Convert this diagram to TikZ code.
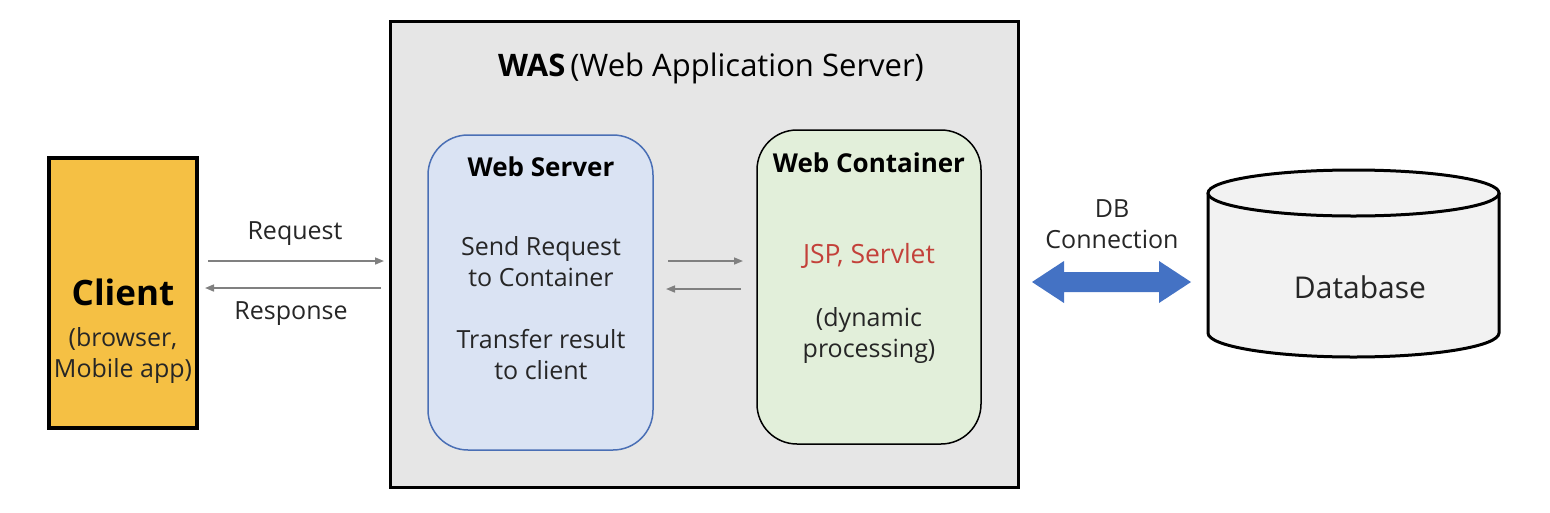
\documentclass[tikz,border=0pt]{standalone}
\usepackage{fontspec}
\setmainfont{Open Sans}
\usetikzlibrary{arrows.meta}
\definecolor{clientY}{HTML}{F5C044}
\definecolor{wasG}{HTML}{E6E6E6}
\definecolor{wsFill}{HTML}{DAE3F3}
\definecolor{wsLine}{HTML}{4A6FB5}
\definecolor{wcFill}{HTML}{E2EFDA}
\definecolor{dbFill}{HTML}{F2F2F2}
\definecolor{jspRed}{HTML}{C3413A}
\definecolor{arrGray}{HTML}{808080}
\definecolor{dbBlue}{HTML}{4472C4}
\tikzset{
  lbl/.style={font=\fontsize{25}{31}\selectfont, text=black!85, align=center, inner sep=0pt},
  grayarrow/.style={draw=arrGray, line width=1.6pt, -{Triangle[length=9pt,width=7pt]}},
}
\begin{document}
\begin{tikzpicture}[x=1pt,y=-1pt]
\useasboundingbox (0,0) rectangle (1550,512);
% WAS box
\draw[fill=wasG, line width=3pt] (390,21) rectangle (1018,487);
\node[inner sep=0pt, font=\fontsize{31}{36}\selectfont] (wastitle) at (711,68) {\textbf{WAS}\,(Web Application Server)};
% client
\draw[fill=clientY, line width=3.5pt] (49,158) rectangle (197,428);
\node[inner sep=0pt, font=\bfseries\fontsize{35}{40}\selectfont] (client) at (123,292) {Client};
\node[lbl] (clientsub) at (123,355) {(browser,\\Mobile app)};
\coordinate (cR1) at (208,261);
\coordinate (cR2) at (205,288);
\coordinate (wL1) at (384,261);
\coordinate (wL2) at (381,288);
\draw[grayarrow] (cR1) -- (wL1);
\draw[grayarrow] (wL2) -- (cR2);
\node[lbl] (req) at (295,234) {Request};
\node[lbl] (resp) at (291,314) {Response};
% web server
\draw[fill=wsFill, draw=wsLine, line width=1.5pt, rounded corners=40pt] (428,135) rectangle (653,450);
\node[inner sep=0pt, font=\bfseries\fontsize{26}{30}\selectfont] (wstitle) at (541,167) {Web Server};
\node[lbl] (ws1) at (541,262) {Send Request\\to Container};
\node[lbl] (ws2) at (541,355) {Transfer result\\to client};
% web container
\draw[fill=wcFill, draw=black, line width=1.5pt, rounded corners=40pt] (757,130) rectangle (981,444);
\node[inner sep=0pt, font=\bfseries\fontsize{26}{30}\selectfont] (wctitle) at (869,163) {Web Container};
\node[lbl, text=jspRed, font=\fontsize{26.5}{31}\selectfont] (jsp) at (869,256) {JSP, Servlet};
\node[lbl] (dyn) at (869,335) {(dynamic\\processing)};
\coordinate (m1a) at (668,261);
\coordinate (m1b) at (743,261);
\coordinate (m2a) at (741,289);
\coordinate (m2b) at (666,289);
\draw[grayarrow] (m1a) -- (m1b);
\draw[grayarrow] (m2a) -- (m2b);
% DB connection
\node[lbl] (dbc) at (1112,224) {DB\\Connection};
\fill[dbBlue] (1032,282) -- (1064,261) -- (1064,272) -- (1159,272) -- (1159,261) -- (1191,282) -- (1159,303) -- (1159,292) -- (1064,292) -- (1064,303) -- cycle;
% database cylinder
\draw[fill=dbFill, line width=3pt] (1208,193) -- (1208,333) arc[start angle=180, end angle=0, x radius=145.5, y radius=24] -- (1499,193);
\draw[fill=dbFill, line width=3pt] (1353.5,193) ellipse[x radius=145.5, y radius=23];
\node[inner sep=0pt, font=\fontsize{30}{34}\selectfont, text=black!85] (db) at (1360,287) {Database};
\end{tikzpicture}
\end{document}
